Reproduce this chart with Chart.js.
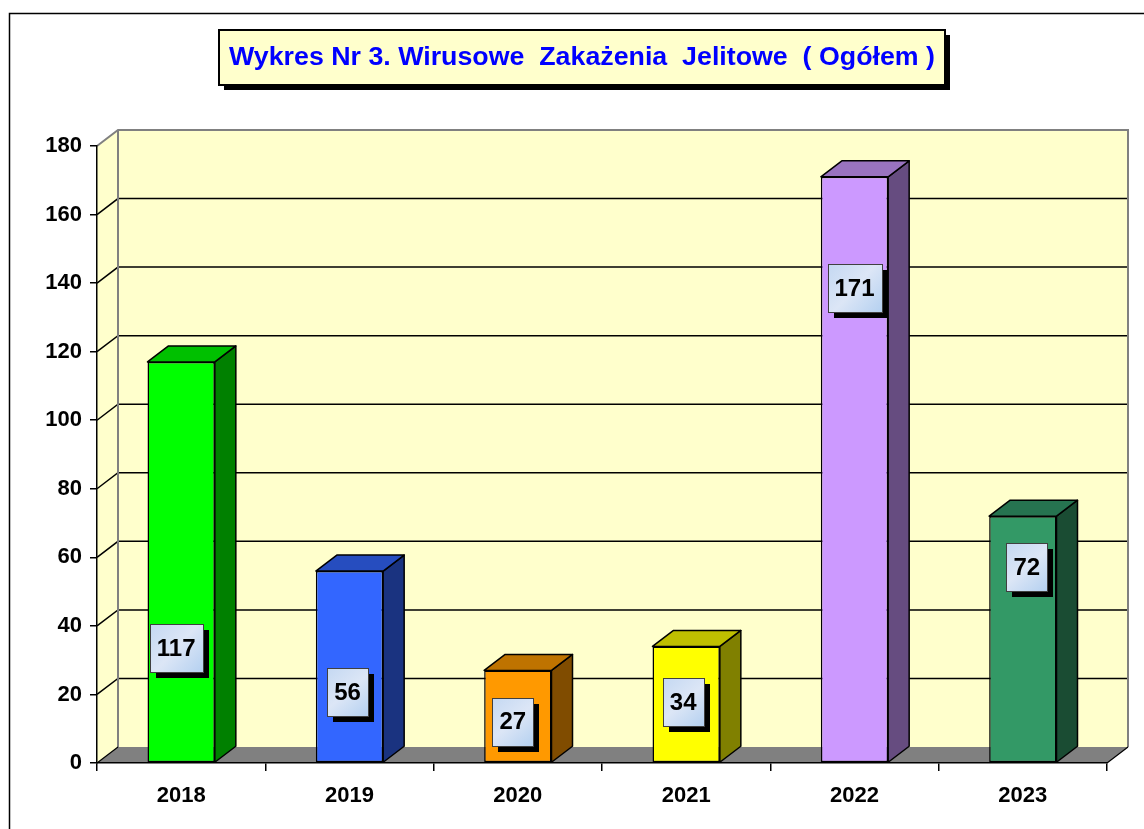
<!DOCTYPE html>
<html>
<head>
<meta charset="utf-8">
<script src="https://cdn.jsdelivr.net/npm/chart.js@4"></script>
<style>
  html, body { margin: 0; padding: 0; background: #ffffff; }
  canvas { display: block; }
</style>
</head>
<body>
<canvas id="chart" width="1144" height="829"></canvas>
<script>
// data
const years = ['2018', '2019', '2020', '2021', '2022', '2023'];
const cases = [117, 56, 27, 34, 171, 72];
const yMax = 180;
const yStep = 20;
const titleText = 'Wykres Nr 3. Wirusowe  Zakażenia  Jelitowe  ( Ogółem )';

// styles
const frontColors = ['#00FF00', '#3366FF', '#FF9900', '#FFFF00', '#CC99FF', '#339966'];
const sideColors  = ['#008000', '#1A3380', '#804C00', '#808000', '#664C80', '#1A4C33'];
const topColors   = ['#00C000', '#264DBF', '#BF7300', '#BFBF00', '#9973BF', '#267350'];
// where the value boxes sit (in value units) and a small sideways nudge
const labelAt   = [33.5, 20.7, 12, 17.8, 138.6, 57.2];
const labelNudge = [-5, -2, -5, -3, 0, 4];

const DX = 21, DY = -16; // depth of the 3d look
const FONT = '"Liberation Sans", Arial, sans-serif';

const ctx = document.getElementById('chart').getContext('2d');

const wallsPlugin = {
  id: 'walls',
  beforeDraw(chart) {
    const c = chart.ctx;
    const {left, right, top, bottom} = chart.chartArea;
    const ys = chart.scales.y;
    c.save();
    // outer frame
    c.strokeStyle = '#000';
    c.lineWidth = 1.5;
    c.strokeRect(9.5, 13.5, 1300, 1000);

    // side wall + back wall
    c.fillStyle = '#FFFFCC';
    c.beginPath();
    c.moveTo(left, top); c.lineTo(left + DX, top + DY);
    c.lineTo(left + DX, bottom + DY); c.lineTo(left, bottom);
    c.closePath(); c.fill();
    c.fillRect(left + DX, top + DY, right - left, bottom - top);

    // grid lines on the walls
    c.strokeStyle = '#000';
    c.lineWidth = 1.5;
    for (let v = yStep; v < yMax; v += yStep) {
      const py = ys.getPixelForValue(v);
      c.beginPath();
      c.moveTo(left, py);
      c.lineTo(left + DX, py + DY);
      c.lineTo(right + DX, py + DY);
      c.stroke();
    }
    // wall edges
    c.strokeStyle = '#808080';
    c.lineWidth = 2;
    c.beginPath();
    c.moveTo(left, top); c.lineTo(left + DX, top + DY);
    c.lineTo(right + DX, top + DY); c.lineTo(right + DX, bottom + DY);
    c.moveTo(left + DX, top + DY); c.lineTo(left + DX, bottom + DY);
    c.stroke();

    // floor
    c.fillStyle = '#808080';
    c.strokeStyle = '#000';
    c.lineWidth = 1.2;
    c.beginPath();
    c.moveTo(left, bottom); c.lineTo(left + DX, bottom + DY);
    c.lineTo(right + DX, bottom + DY); c.lineTo(right, bottom);
    c.closePath(); c.fill();
    c.beginPath();
    c.moveTo(left, bottom); c.lineTo(left + DX, bottom + DY);
    c.moveTo(right, bottom); c.lineTo(right + DX, bottom + DY);
    c.stroke();

    // title box
    const bx = 219, by = 30, bw = 726, bh = 55;
    c.fillStyle = '#000';
    c.fillRect(bx + 5, by + 5, bw, bh);
    c.fillStyle = '#FFFFCC';
    c.fillRect(bx, by, bw, bh);
    c.strokeStyle = '#000';
    c.lineWidth = 2;
    c.strokeRect(bx, by, bw, bh);
    c.font = 'bold 25px ' + FONT;
    c.fillStyle = '#0000FF';
    c.textBaseline = 'middle';
    c.textAlign = 'center';
    const tw = c.measureText(titleText).width;
    const sx = Math.min(1.15, 706 / tw);
    c.translate(bx + bw / 2, by + bh / 2 + 1);
    c.scale(sx, 1);
    c.fillText(titleText, 0, 0);
    c.restore();
  },
  beforeDatasetsDraw(chart) {
    const c = chart.ctx;
    const meta = chart.getDatasetMeta(0);
    c.save();
    c.strokeStyle = '#000';
    c.lineWidth = 1.5;
    c.lineJoin = 'round';
    meta.data.forEach((bar, i) => {
      const l = bar.x - bar.width / 2, r = bar.x + bar.width / 2;
      const t = bar.y, b = bar.base;
      // side face
      c.fillStyle = sideColors[i];
      c.beginPath();
      c.moveTo(r, t); c.lineTo(r + DX, t + DY);
      c.lineTo(r + DX, b + DY); c.lineTo(r, b);
      c.closePath(); c.fill(); c.stroke();
      // top face
      c.fillStyle = topColors[i];
      c.beginPath();
      c.moveTo(l, t); c.lineTo(l + DX, t + DY);
      c.lineTo(r + DX, t + DY); c.lineTo(r, t);
      c.closePath(); c.fill(); c.stroke();
    });
    c.restore();
  },
  afterDatasetsDraw(chart) {
    const c = chart.ctx;
    const meta = chart.getDatasetMeta(0);
    const ys = chart.scales.y;
    c.save();
    c.font = 'bold 24px ' + FONT;
    c.textAlign = 'center';
    c.textBaseline = 'middle';
    meta.data.forEach((bar, i) => {
      const txt = String(cases[i]);
      const w = Math.round(c.measureText(txt).width + 14);
      const h = 48;
      const cx = bar.x + labelNudge[i];
      const cy = ys.getPixelForValue(labelAt[i]);
      const x0 = Math.round(cx - w / 2), y0 = Math.round(cy - h / 2);
      c.fillStyle = '#000';
      c.fillRect(x0 + 6, y0 + 6, w, h);
      const g = c.createLinearGradient(x0, y0, x0 + w, y0 + h);
      g.addColorStop(0, '#C4D8F2');
      g.addColorStop(0.5, '#DCE6F6');
      g.addColorStop(1, '#B4D0F0');
      c.fillStyle = g;
      c.fillRect(x0, y0, w, h);
      c.strokeStyle = '#404040';
      c.lineWidth = 1;
      c.strokeRect(x0 + 0.5, y0 + 0.5, w, h);
      c.fillStyle = '#000';
      c.fillText(txt, cx, cy + 1);
    });
    c.restore();
  }
};

const chart = new Chart(ctx, {
  type: 'bar',
  data: {
    labels: years,
    datasets: [{
      data: cases,
      backgroundColor: frontColors,
      borderColor: '#000',
      borderWidth: 1.5,
      borderSkipped: false,
      categoryPercentage: 1,
      barPercentage: 0.4
    }]
  },
  options: {
    responsive: false,
    animation: false,
    devicePixelRatio: 1,
    layout: { padding: { top: 146, right: 37, bottom: 0, left: 0 } },
    plugins: {
      legend: { display: false },
      title: { display: false },
      tooltip: { enabled: false }
    },
    scales: {
      x: {
        offset: true,
        grid: { offset: true, drawOnChartArea: false, color: '#000', tickLength: 8, lineWidth: 1.5 },
        border: { display: true, color: '#000', width: 1.5 },
        ticks: { color: '#000', font: { family: FONT, size: 22, weight: 'bold' }, padding: 12, maxRotation: 0 },
        afterFit(s) { s.height = 66; }
      },
      y: {
        min: 0,
        max: yMax,
        ticks: { stepSize: yStep, color: '#000', font: { family: FONT, size: 22, weight: 'bold' }, padding: 8 },
        grid: { drawOnChartArea: false, color: '#000', tickLength: 7, lineWidth: 1.5 },
        border: { display: true, color: '#000', width: 1.5 },
        afterFit(s) { s.width = 97; }
      }
    }
  },
  plugins: [wallsPlugin]
});
</script>
</body>
</html>
